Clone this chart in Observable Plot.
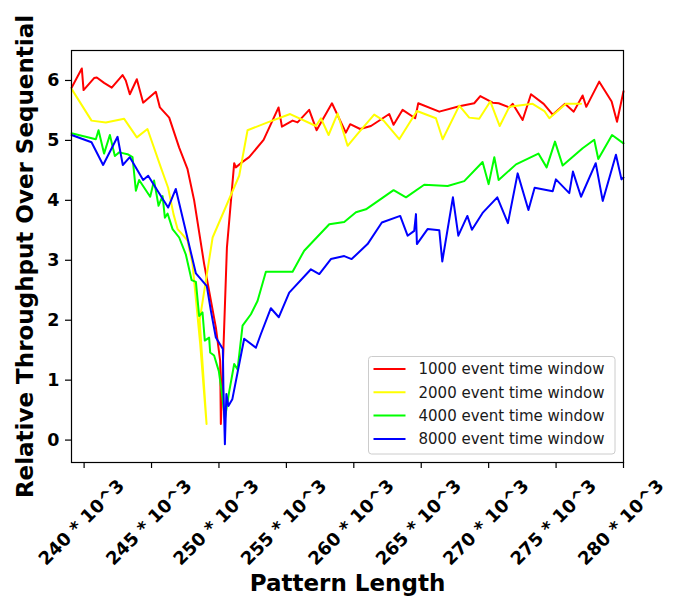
<!DOCTYPE html>
<html>
<head>
<meta charset="utf-8">
<script src="https://cdn.jsdelivr.net/npm/d3@7"></script>
<script src="https://cdn.jsdelivr.net/npm/@observablehq/plot@0.6"></script>
<style>
  html, body { margin: 0; padding: 0; background: #fff; }
  #chart { position: relative; width: 677px; height: 596px; }
  #chart svg { display: block; }
</style>
</head>
<body>
<div id="chart"></div>
<script>
// Series labels and line colours
const seriesNames = [
  "1000 event time window",
  "2000 event time window",
  "4000 event time window",
  "8000 event time window"
];
const seriesColors = ["#ff0000", "#ffff00", "#00ff00", "#0000ff"];

// Pattern length (in units of 10^3) and relative throughput, per time window
const length1000 = [239.07, 239.83, 239.96, 240.74, 240.94, 241.48, 242.05, 242.85, 243.09, 243.39, 243.91, 244.38, 245.32, 245.62, 246.31, 247.05, 247.67, 248.16, 248.90, 249.77, 250.09, 250.14, 250.59, 251.13, 251.25, 251.62, 252.24, 253.31, 254.42, 254.67, 255.46, 255.83, 256.69, 257.24, 258.38, 259.41, 259.73, 260.47, 261.27, 262.63, 262.95, 263.62, 264.55, 264.78, 266.34, 267.82, 268.93, 269.38, 270.30, 270.74, 271.53, 271.78, 272.52, 273.14, 274.08, 274.75, 275.66, 276.31, 276.97, 277.24, 278.20, 279.12, 279.52, 280.00];
const speedup1000 = [5.88, 6.20, 5.84, 6.04, 6.05, 5.96, 5.88, 6.09, 6.00, 5.77, 6.02, 5.63, 5.81, 5.55, 5.38, 4.88, 4.52, 4.00, 2.94, 1.88, 1.32, 0.27, 3.21, 4.62, 4.55, 4.62, 4.72, 5.01, 5.55, 5.23, 5.33, 5.30, 5.51, 5.17, 5.62, 5.13, 5.27, 5.19, 5.24, 5.44, 5.26, 5.51, 5.37, 5.62, 5.48, 5.57, 5.62, 5.74, 5.63, 5.62, 5.55, 5.61, 5.34, 5.77, 5.61, 5.43, 5.61, 5.48, 5.75, 5.56, 5.98, 5.65, 5.31, 5.82];

// Measurements around 249k were recorded out of order, so the line doubles back there
const length2000 = [239.07, 240.55, 241.61, 242.97, 243.91, 244.70, 245.69, 246.23, 246.63, 246.93, 247.17, 247.67, 248.04, 248.61, 249.08, 248.57, 249.53, 251.50, 252.12, 253.61, 255.28, 257.19, 257.56, 258.13, 258.80, 259.54, 260.28, 261.51, 262.21, 263.37, 264.68, 266.09, 266.59, 267.82, 268.56, 269.30, 270.12, 270.82, 271.53, 273.26, 274.13, 274.50, 275.73, 276.85];
const speedup2000 = [5.86, 5.33, 5.30, 5.36, 5.05, 5.19, 4.55, 4.21, 3.77, 3.52, 3.46, 3.33, 2.94, 1.60, 0.27, 2.00, 3.38, 4.41, 5.17, 5.30, 5.44, 5.24, 5.37, 5.09, 5.45, 4.91, 5.11, 5.43, 5.33, 5.02, 5.49, 5.37, 5.02, 5.58, 5.38, 5.36, 5.65, 5.24, 5.56, 5.61, 5.49, 5.37, 5.61, 5.61];

const length4000 = [239.07, 240.87, 241.07, 241.48, 241.91, 242.28, 242.60, 243.22, 243.59, 243.84, 244.08, 244.90, 245.19, 245.52, 245.82, 245.99, 246.19, 246.56, 247.05, 247.54, 247.97, 248.29, 248.53, 248.78, 248.95, 249.27, 249.35, 249.64, 249.99, 250.21, 250.44, 250.73, 251.13, 251.38, 251.75, 252.37, 252.86, 253.48, 255.46, 256.32, 258.18, 259.29, 260.16, 260.90, 262.95, 263.87, 265.22, 266.96, 268.19, 269.55, 270.00, 270.42, 270.74, 272.03, 273.69, 274.30, 274.92, 275.49, 276.97, 277.83, 278.13, 279.15, 280.00];
const speedup4000 = [5.12, 5.02, 5.17, 4.78, 5.09, 4.74, 4.80, 4.77, 4.72, 4.16, 4.34, 4.06, 4.33, 3.91, 4.07, 3.71, 3.78, 3.52, 3.38, 3.10, 2.67, 2.64, 2.07, 2.13, 1.66, 1.71, 1.46, 1.41, 1.15, 0.79, 0.35, 0.77, 1.27, 1.18, 1.91, 2.10, 2.32, 2.81, 2.81, 3.16, 3.60, 3.64, 3.80, 3.85, 4.17, 4.05, 4.26, 4.24, 4.32, 4.64, 4.27, 4.72, 4.34, 4.60, 4.78, 4.55, 4.98, 4.58, 4.87, 5.01, 4.69, 5.09, 4.95];

const length8000 = [239.07, 240.55, 241.41, 242.48, 242.87, 243.39, 244.38, 244.75, 246.23, 246.80, 248.29, 249.10, 249.40, 249.77, 250.29, 250.33, 250.44, 250.55, 250.70, 250.99, 251.87, 252.74, 253.11, 253.85, 254.44, 255.21, 256.82, 257.44, 258.30, 259.29, 259.84, 261.02, 262.08, 263.44, 263.99, 264.48, 264.61, 264.68, 265.47, 266.34, 266.56, 267.35, 267.75, 268.42, 268.76, 269.55, 270.64, 271.43, 272.15, 272.95, 273.41, 274.75, 274.99, 275.98, 276.25, 276.85, 277.94, 278.46, 279.44, 279.85, 280.00];
const speedup8000 = [5.09, 4.97, 4.59, 5.06, 4.59, 4.72, 4.34, 4.41, 3.88, 4.19, 2.78, 2.57, 2.16, 1.71, 1.52, 0.88, -0.07, 0.77, 0.57, 0.68, 1.69, 1.54, 1.77, 2.20, 2.05, 2.46, 2.85, 2.77, 3.02, 3.07, 3.02, 3.27, 3.63, 3.74, 3.41, 3.49, 3.77, 3.27, 3.52, 3.50, 2.98, 4.05, 3.41, 3.74, 3.51, 3.79, 4.05, 3.62, 4.45, 3.84, 4.21, 4.15, 4.35, 4.12, 4.48, 4.06, 4.62, 3.99, 4.76, 4.35, 4.38];

// Axis ticks and titles
const xTicks = [240, 245, 250, 255, 260, 265, 270, 275, 280];
const xTickLabels = ["240 * 10^3", "245 * 10^3", "250 * 10^3", "255 * 10^3", "260 * 10^3", "265 * 10^3", "270 * 10^3", "275 * 10^3", "280 * 10^3"];
const yTicks = [0, 1, 2, 3, 4, 5, 6];
const xTitle = "Pattern Length";
const yTitle = "Relative Throughput Over Sequential";

// Long table for the line mark
const lengths = [length1000, length2000, length4000, length8000];
const speedups = [speedup1000, speedup2000, speedup4000, speedup8000];
const rows = seriesNames.flatMap((name, s) =>
  lengths[s].map((len, i) => ({series: name, length: len, speedup: speedups[s][i]}))
);

const font = "DejaVu Sans, sans-serif";

const chart = Plot.plot({
  width: 677,
  height: 596,
  marginLeft: 71,
  marginRight: 54,
  marginTop: 50,
  marginBottom: 134,
  style: {fontFamily: font, background: "#fff", color: "#000", overflow: "visible"},
  x: {domain: [239.065, 280], label: null},
  y: {domain: [-0.374, 6.5], label: null},
  color: {domain: seriesNames, range: seriesColors},
  marks: [
    Plot.line(rows, {x: "length", y: "speedup", z: "series", stroke: "series", strokeWidth: 2, curve: "linear"}),
    Plot.frame({stroke: "#000", strokeWidth: 1.2}),
    Plot.axisX({ticks: xTicks, tickSize: 6, tickFormat: () => "", stroke: "#000", strokeWidth: 1.2}),
    Plot.axisY({ticks: yTicks, tickSize: 6, tickPadding: 6, stroke: "#000", strokeWidth: 1.2,
      fontSize: 17.5, fontWeight: "bold", fill: "#000", tickFormat: d => String(d)}),
    Plot.text(xTicks, {x: d => d, text: (d, i) => xTickLabels[i], frameAnchor: "bottom",
      rotate: -45, textAnchor: "middle", lineAnchor: "middle", dx: -2.5, dy: 60,
      fontSize: 18, fontWeight: "bold", fill: "#000"}),
    Plot.text([xTitle], {text: d => d, frameAnchor: "bottom", textAnchor: "middle", lineAnchor: "middle", dy: 121,
      fontSize: 23, fontWeight: "bold", fill: "#000"}),
    Plot.text([yTitle], {text: d => d, frameAnchor: "left", rotate: -90, textAnchor: "middle", lineAnchor: "middle", dx: -45.6,
      fontSize: 23, fontWeight: "bold", fill: "#000"})
  ]
});

document.getElementById("chart").append(chart);

// Legend in the lower-right corner of the axes
const svg = d3.select(chart);
const legend = svg.append("g").attr("transform", "translate(368.5,356.5)");
legend.append("rect")
  .attr("width", 246.5).attr("height", 97.5).attr("rx", 3)
  .attr("fill", "#fff").attr("fill-opacity", 0.8)
  .attr("stroke", "#cccccc").attr("stroke-width", 1);
seriesNames.forEach((name, i) => {
  const cy = 12.5 + i * 23.3;
  legend.append("line")
    .attr("x1", 5).attr("x2", 37).attr("y1", cy).attr("y2", cy)
    .attr("stroke", seriesColors[i]).attr("stroke-width", 2);
  legend.append("text")
    .attr("x", 50).attr("y", cy).attr("dy", "0.35em")
    .attr("text-anchor", "start")
    .attr("font-family", font).attr("font-size", 15).attr("fill", "#1a1a1a")
    .text(name);
});
</script>
</body>
</html>
